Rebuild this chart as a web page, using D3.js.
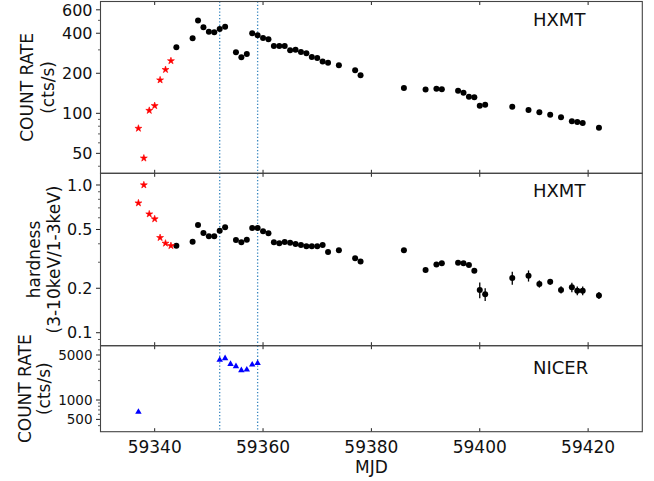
<!DOCTYPE html>
<html>
<head>
<meta charset="utf-8">
<script src="https://cdn.jsdelivr.net/npm/d3@7"></script>
<style>
  body { margin: 0; background: #fff; }
  svg { display: block; font-family: "DejaVu Sans", sans-serif; }
</style>
</head>
<body>
<div id="chart"></div>
<script>
// HXMT points before MJD 59344 (red stars)
const hxmtEarlyMjd = [59337, 59338, 59339, 59340, 59341, 59342, 59343];
const hxmtEarlyRate = [77, 46, 105, 114, 178, 213, 248];
const hxmtEarlyHard = [0.755, 1.0, 0.636, 0.589, 0.44, 0.403, 0.388];

// HXMT main points (black circles)
const hxmtMjd = [59344, 59347, 59348, 59349, 59350, 59351, 59352, 59353,
    59355, 59356, 59357, 59358, 59359, 59360, 59361,
    59362, 59363, 59364, 59365, 59366, 59367, 59368, 59369, 59370, 59371, 59372,
    59374, 59377, 59378, 59386, 59390, 59392, 59393,
    59396, 59397, 59398, 59399, 59400, 59401,
    59406, 59409, 59411, 59413, 59415, 59417, 59418, 59419, 59422];
const hxmtRate = [314, 367, 498, 444, 411, 407, 431, 448,
    288, 264, 279, 400, 386, 369, 360,
    321, 321, 321, 298, 301, 289, 283, 265, 261, 245, 240,
    230, 211, 193, 155, 151, 153, 152,
    148, 143, 133, 132, 114, 116,
    112, 106, 102, 97.6, 93.3, 87, 86, 84.5, 78];
const hxmtHard = [0.388, 0.413, 0.536, 0.473, 0.449, 0.449, 0.491, 0.517,
    0.424, 0.409, 0.426, 0.512, 0.512, 0.486, 0.471,
    0.409, 0.403, 0.411, 0.407, 0.398, 0.392, 0.385, 0.385, 0.385, 0.392, 0.352,
    0.361, 0.319, 0.303, 0.361, 0.266, 0.290, 0.295,
    0.298, 0.295, 0.287, 0.263, 0.195, 0.182,
    0.235, 0.243, 0.214, 0.221, 0.195, 0.203, 0.1925, 0.1925, 0.179];
const hxmtHardErr = [0.004, 0.004, 0.004, 0.004, 0.004, 0.004, 0.004, 0.004,
    0.004, 0.004, 0.004, 0.004, 0.004, 0.004, 0.004,
    0.004, 0.004, 0.004, 0.004, 0.004, 0.004, 0.004, 0.004, 0.004, 0.004, 0.004,
    0.004, 0.004, 0.004, 0.004, 0.005, 0.005, 0.005,
    0.005, 0.005, 0.005, 0.006, 0.024, 0.018,
    0.024, 0.021, 0.012, 0.010, 0.011, 0.015, 0.013, 0.013, 0.010];

// NICER (blue triangles)
const nicerMjd = [59337, 59352, 59353, 59354, 59355, 59356, 59357, 59358, 59359];
const nicerRate = [651, 4180, 4440, 3620, 3340, 2890, 2950, 3530, 3720];

// marker lines and ticks
const markLines = [59352, 59359];
const xTicks = [59340, 59360, 59380, 59400, 59420];
const rateTicks = [50, 100, 200, 400, 600];
const hardTicks = [0.1, 0.2, 0.5, 1.0];
const nicerTicks = [500, 1000, 5000];

const width = 654, height = 481;
const left = 100.5, right = 642.3;

const svg = d3.select('#chart').append('svg')
    .attr('width', width)
    .attr('height', height);

const x = d3.scaleLinear().domain([59330, 59430]).range([left, right]);

const panels = [
    { top: 1.5, bottom: 173.3, domain: [35.4, 693], ticks: rateTicks, fmt: d => String(d), tickFont: 16,
      label: ['COUNT RATE', '(cts/s)'], labelX: [27, 48], tag: 'HXMT', tagY: 26 },
    { top: 173.3, bottom: 345.7, domain: [0.0817, 1.2], ticks: hardTicks, fmt: d => d.toFixed(1), tickFont: 16,
      label: ['hardness', '(3-10keV/1-3keV)'], labelX: [34, 54], tag: 'HXMT', tagY: 197 },
    { top: 345.7, bottom: 431.7, domain: [322, 6970], ticks: nicerTicks, fmt: d => String(d), tickFont: 13.5,
      label: ['COUNT RATE', '(cts/s)'], labelX: [25, 44], tag: 'NICER', tagY: 374 }
];

panels.forEach(p => {
    p.y = d3.scaleLog().domain(p.domain).range([p.bottom, p.top]);
});

// minor ticks for a log axis
function minorTicks(domain, major) {
    const out = [];
    const e0 = Math.floor(Math.log10(domain[0])), e1 = Math.ceil(Math.log10(domain[1]));
    for (let e = e0; e <= e1; e++) {
        for (let k = 1; k <= 9; k++) {
            const v = +(k * Math.pow(10, e)).toPrecision(6);
            if (v >= domain[0] && v <= domain[1] && !major.some(m => Math.abs(m - v) / v < 1e-6)) out.push(v);
        }
    }
    return out;
}

panels.forEach(p => {
    const g = svg.append('g');
    const y = p.y;

    // dotted vertical lines
    g.selectAll('line.mark')
        .data(markLines)
        .join('line')
        .attr('x1', d => x(d)).attr('x2', d => x(d))
        .attr('y1', p.top).attr('y2', p.bottom)
        .attr('stroke', '#3a88c0')
        .attr('stroke-width', 1.3)
        .attr('stroke-dasharray', '1.3,2');

    // y major ticks
    g.selectAll('line.ymaj')
        .data(p.ticks)
        .join('line')
        .attr('x1', left - 4.5).attr('x2', left)
        .attr('y1', d => y(d)).attr('y2', d => y(d))
        .attr('stroke', '#222').attr('stroke-width', 1);

    g.selectAll('text.ylab')
        .data(p.ticks)
        .join('text')
        .attr('x', left - 8)
        .attr('y', d => y(d))
        .attr('dy', '0.36em')
        .attr('text-anchor', 'end')
        .attr('font-size', p.tickFont)
        .attr('fill', '#111')
        .text(p.fmt);

    // y minor ticks
    g.selectAll('line.ymin')
        .data(minorTicks(p.domain, p.ticks))
        .join('line')
        .attr('x1', left - 2.5).attr('x2', left)
        .attr('y1', d => y(d)).attr('y2', d => y(d))
        .attr('stroke', '#333').attr('stroke-width', 0.8);

    // x ticks pointing inward, top and bottom
    g.selectAll('line.xtb')
        .data(xTicks)
        .join('line')
        .attr('x1', d => x(d)).attr('x2', d => x(d))
        .attr('y1', p.bottom).attr('y2', p.bottom - 3.5)
        .attr('stroke', '#222');
    g.selectAll('line.xtt')
        .data(xTicks)
        .join('line')
        .attr('x1', d => x(d)).attr('x2', d => x(d))
        .attr('y1', p.top).attr('y2', p.top + 3.5)
        .attr('stroke', '#222');

    // frame
    g.append('rect')
        .attr('x', left).attr('y', p.top)
        .attr('width', right - left).attr('height', p.bottom - p.top)
        .attr('fill', 'none')
        .attr('stroke', '#444')
        .attr('stroke-width', 1.1);

    // y label (two lines)
    const cy = (p.top + p.bottom) / 2;
    p.label.forEach((t, i) => {
        g.append('text')
            .attr('transform', `translate(${p.labelX[i]},${cy}) rotate(-90)`)
            .attr('text-anchor', 'middle')
            .attr('dominant-baseline', 'central')
            .attr('font-size', 17)
            .attr('fill', '#111')
            .text(t);
    });

    // instrument tag
    g.append('text')
        .attr('x', 533)
        .attr('y', p.tagY)
        .attr('font-size', 18)
        .attr('fill', '#111')
        .text(p.tag);
});

// x tick labels and title below bottom panel
svg.selectAll('text.xlab')
    .data(xTicks)
    .join('text')
    .attr('x', d => x(d))
    .attr('y', 453)
    .attr('text-anchor', 'middle')
    .attr('font-size', 17)
    .attr('fill', '#111')
    .text(d => d);

svg.append('text')
    .attr('x', x(59380))
    .attr('y', 472.5)
    .attr('text-anchor', 'middle')
    .attr('font-size', 17)
    .attr('fill', '#111')
    .text('MJD');

const star = d3.symbol().type(d3.symbolStar).size(15);
const tri = d3.symbol().type(d3.symbolTriangle).size(18);

// top panel: count rate
const pTop = panels[0], pMid = panels[1], pBot = panels[2];

svg.append('g').selectAll('circle')
    .data(d3.zip(hxmtMjd, hxmtRate))
    .join('circle')
    .attr('cx', d => x(d[0])).attr('cy', d => pTop.y(d[1]))
    .attr('r', 3).attr('fill', '#000');

svg.append('g').selectAll('path')
    .data(d3.zip(hxmtEarlyMjd, hxmtEarlyRate))
    .join('path')
    .attr('d', star)
    .attr('transform', d => `translate(${x(d[0])},${pTop.y(d[1])})`)
    .attr('fill', '#ff0000')
    .attr('stroke', '#ff0000')
    .attr('stroke-width', 0.6);

// middle panel: hardness with error bars
const hardData = d3.zip(hxmtMjd, hxmtHard, hxmtHardErr);
svg.append('g').selectAll('line')
    .data(hardData)
    .join('line')
    .attr('x1', d => x(d[0])).attr('x2', d => x(d[0]))
    .attr('y1', d => pMid.y(d[1] - d[2])).attr('y2', d => pMid.y(d[1] + d[2]))
    .attr('stroke', '#000').attr('stroke-width', 1.3);

svg.append('g').selectAll('circle')
    .data(hardData)
    .join('circle')
    .attr('cx', d => x(d[0])).attr('cy', d => pMid.y(d[1]))
    .attr('r', 3).attr('fill', '#000');

svg.append('g').selectAll('path')
    .data(d3.zip(hxmtEarlyMjd, hxmtEarlyHard))
    .join('path')
    .attr('d', star)
    .attr('transform', d => `translate(${x(d[0])},${pMid.y(d[1])})`)
    .attr('fill', '#ff0000')
    .attr('stroke', '#ff0000')
    .attr('stroke-width', 0.6);

// bottom panel: NICER
svg.append('g').selectAll('path')
    .data(d3.zip(nicerMjd, nicerRate))
    .join('path')
    .attr('d', tri)
    .attr('transform', d => `translate(${x(d[0])},${pBot.y(d[1])})`)
    .attr('fill', '#0000ff');
</script>
</body>
</html>
